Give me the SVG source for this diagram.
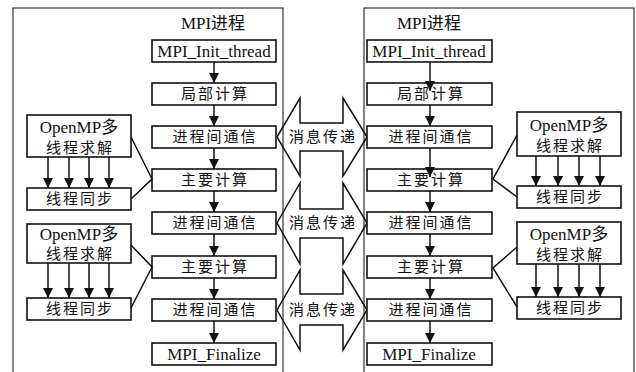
<svg xmlns="http://www.w3.org/2000/svg" width="636" height="372" viewBox="0 0 636 372">
<style>
.bg{fill:#fff}
.cont{fill:none;stroke:#333;stroke-width:1.2}
.box{fill:#fff;stroke:#111;stroke-width:1.6}
.t{font-family:"Liberation Serif","Noto Sans CJK SC",serif;font-size:17px;fill:#111;text-anchor:middle}
.c{font-family:"Liberation Serif","Noto Sans CJK SC",serif;font-size:15px;letter-spacing:2px;fill:#111;text-anchor:middle}
.ln{fill:none;stroke:#111;stroke-width:1.5}
.msg{fill:none;stroke:#111;stroke-width:1.5;stroke-linejoin:miter}
</style>
<defs>
<marker id="ah" markerWidth="10" markerHeight="10" refX="10" refY="5" orient="auto" markerUnits="userSpaceOnUse">
<path d="M0,0 L10,5 L0,10 z" fill="#111"/>
</marker>
</defs>
<rect class="bg" x="0" y="0" width="636" height="372"/>

<g id="containers">
<rect class="cont" x="13" y="8" width="270" height="380"/>
<rect class="cont" x="364" y="8" width="270" height="380"/>
<text class="t" x="213" y="29">MPI进程</text>
<text class="t" x="429" y="29">MPI进程</text>
</g>

<g id="messages">
<g id="msg1">
<path class="msg" d="M277,137 L300,98 L300,123 L343,123 L343,98 L367,137 L343,176 L343,151 L300,151 L300,176 Z"/>
<text class="c" x="323" y="142">消息传递</text>
</g>
<g id="msg2">
<path class="msg" d="M277,223 L300,183 L300,209 L343,209 L343,183 L367,223 L343,264 L343,238 L300,238 L300,264 Z"/>
<text class="c" x="323" y="228">消息传递</text>
</g>
<g id="msg3">
<path class="msg" d="M277,310 L300,270 L300,294 L343,294 L343,270 L367,310 L343,350 L343,325 L300,325 L300,350 Z"/>
<text class="c" x="323" y="315">消息传递</text>
</g>
</g>

<g id="left-init"><rect class="box" x="152" y="40" width="124" height="22"/><text class="t" x="214" y="57">MPI_Init_thread</text></g>
<g id="left-local"><rect class="box" x="152" y="83" width="124" height="22"/><text class="c" x="215" y="99">局部计算</text></g>
<g id="left-comm1"><rect class="box" x="152" y="126" width="124" height="22"/><text class="c" x="215" y="142">进程间通信</text></g>
<g id="left-main1"><rect class="box" x="152" y="169" width="124" height="22"/><text class="c" x="215" y="185">主要计算</text></g>
<g id="left-comm2"><rect class="box" x="152" y="212" width="124" height="22"/><text class="c" x="215" y="228">进程间通信</text></g>
<g id="left-main2"><rect class="box" x="152" y="256" width="124" height="22"/><text class="c" x="215" y="272">主要计算</text></g>
<g id="left-comm3"><rect class="box" x="152" y="299" width="124" height="22"/><text class="c" x="215" y="315">进程间通信</text></g>
<g id="left-final"><rect class="box" x="152" y="343" width="124" height="22"/><text class="t" x="214" y="360">MPI_Finalize</text></g>

<g id="right-init"><rect class="box" x="367" y="40" width="125" height="22"/><text class="t" x="429" y="57">MPI_Init_thread</text></g>
<g id="right-local"><rect class="box" x="367" y="83" width="125" height="22"/><text class="c" x="431" y="99">局部计算</text></g>
<g id="right-comm1"><rect class="box" x="367" y="126" width="125" height="22"/><text class="c" x="431" y="142">进程间通信</text></g>
<g id="right-main1"><rect class="box" x="367" y="169" width="125" height="22"/><text class="c" x="431" y="185">主要计算</text></g>
<g id="right-comm2"><rect class="box" x="367" y="212" width="125" height="22"/><text class="c" x="431" y="228">进程间通信</text></g>
<g id="right-main2"><rect class="box" x="367" y="256" width="125" height="22"/><text class="c" x="431" y="272">主要计算</text></g>
<g id="right-comm3"><rect class="box" x="367" y="299" width="125" height="22"/><text class="c" x="431" y="315">进程间通信</text></g>
<g id="right-final"><rect class="box" x="367" y="343" width="125" height="22"/><text class="t" x="429" y="360">MPI_Finalize</text></g>

<g id="left-omp1"><rect class="box" x="27" y="115" width="104" height="42"/><text class="t" x="79" y="133">OpenMP多</text><text class="c" x="80" y="153">线程求解</text></g>
<g id="left-sync1"><rect class="box" x="27" y="188" width="104" height="22"/><text class="c" x="80" y="204">线程同步</text></g>
<g id="left-omp2"><rect class="box" x="27" y="224" width="104" height="39"/><text class="t" x="79" y="240">OpenMP多</text><text class="c" x="80" y="259">线程求解</text></g>
<g id="left-sync2"><rect class="box" x="27" y="298" width="104" height="22"/><text class="c" x="80" y="314">线程同步</text></g>

<g id="right-omp1"><rect class="box" x="517" y="112" width="104" height="44"/><text class="t" x="569" y="131">OpenMP多</text><text class="c" x="570" y="151">线程求解</text></g>
<g id="right-sync1"><rect class="box" x="517" y="186" width="104" height="22"/><text class="c" x="570" y="202">线程同步</text></g>
<g id="right-omp2"><rect class="box" x="517" y="222" width="104" height="42"/><text class="t" x="569" y="240">OpenMP多</text><text class="c" x="570" y="260">线程求解</text></g>
<g id="right-sync2"><rect class="box" x="517" y="297" width="104" height="22"/><text class="c" x="570" y="313">线程同步</text></g>

<g id="connectors">
<line class="ln" x1="214" y1="62" x2="214" y2="83" marker-end="url(#ah)"/>
<line class="ln" x1="214" y1="105" x2="214" y2="126" marker-end="url(#ah)"/>
<line class="ln" x1="214" y1="148" x2="214" y2="169" marker-end="url(#ah)"/>
<line class="ln" x1="214" y1="191" x2="214" y2="212" marker-end="url(#ah)"/>
<line class="ln" x1="214" y1="234" x2="214" y2="256" marker-end="url(#ah)"/>
<line class="ln" x1="214" y1="278" x2="214" y2="299" marker-end="url(#ah)"/>
<line class="ln" x1="214" y1="321" x2="214" y2="343" marker-end="url(#ah)"/>
<line class="ln" x1="430" y1="62" x2="430" y2="91" marker-end="url(#ah)"/>
<line class="ln" x1="430" y1="105" x2="430" y2="126" marker-end="url(#ah)"/>
<line class="ln" x1="430" y1="148" x2="430" y2="177" marker-end="url(#ah)"/>
<line class="ln" x1="430" y1="191" x2="430" y2="212" marker-end="url(#ah)"/>
<line class="ln" x1="430" y1="234" x2="430" y2="256" marker-end="url(#ah)"/>
<line class="ln" x1="430" y1="278" x2="430" y2="299" marker-end="url(#ah)"/>
<line class="ln" x1="430" y1="321" x2="430" y2="343" marker-end="url(#ah)"/>
<line class="ln" x1="48" y1="157" x2="48" y2="188" marker-end="url(#ah)"/>
<line class="ln" x1="69" y1="157" x2="69" y2="188" marker-end="url(#ah)"/>
<line class="ln" x1="89" y1="157" x2="89" y2="188" marker-end="url(#ah)"/>
<line class="ln" x1="109" y1="157" x2="109" y2="188" marker-end="url(#ah)"/>
<line class="ln" x1="48" y1="263" x2="48" y2="298" marker-end="url(#ah)"/>
<line class="ln" x1="69" y1="263" x2="69" y2="298" marker-end="url(#ah)"/>
<line class="ln" x1="89" y1="263" x2="89" y2="298" marker-end="url(#ah)"/>
<line class="ln" x1="109" y1="263" x2="109" y2="298" marker-end="url(#ah)"/>
<line class="ln" x1="536" y1="156" x2="536" y2="186" marker-end="url(#ah)"/>
<line class="ln" x1="558" y1="156" x2="558" y2="186" marker-end="url(#ah)"/>
<line class="ln" x1="579" y1="156" x2="579" y2="186" marker-end="url(#ah)"/>
<line class="ln" x1="600" y1="156" x2="600" y2="186" marker-end="url(#ah)"/>
<line class="ln" x1="536" y1="264" x2="536" y2="297" marker-end="url(#ah)"/>
<line class="ln" x1="558" y1="264" x2="558" y2="297" marker-end="url(#ah)"/>
<line class="ln" x1="579" y1="264" x2="579" y2="297" marker-end="url(#ah)"/>
<line class="ln" x1="600" y1="264" x2="600" y2="297" marker-end="url(#ah)"/>
<polyline class="ln" points="131,137 152,179 131,199"/>
<polyline class="ln" points="131,245 152,267 131,308"/>
<polyline class="ln" points="517,135 493,179 517,197"/>
<polyline class="ln" points="517,247 493,268 517,307"/>
</g>
</svg>
